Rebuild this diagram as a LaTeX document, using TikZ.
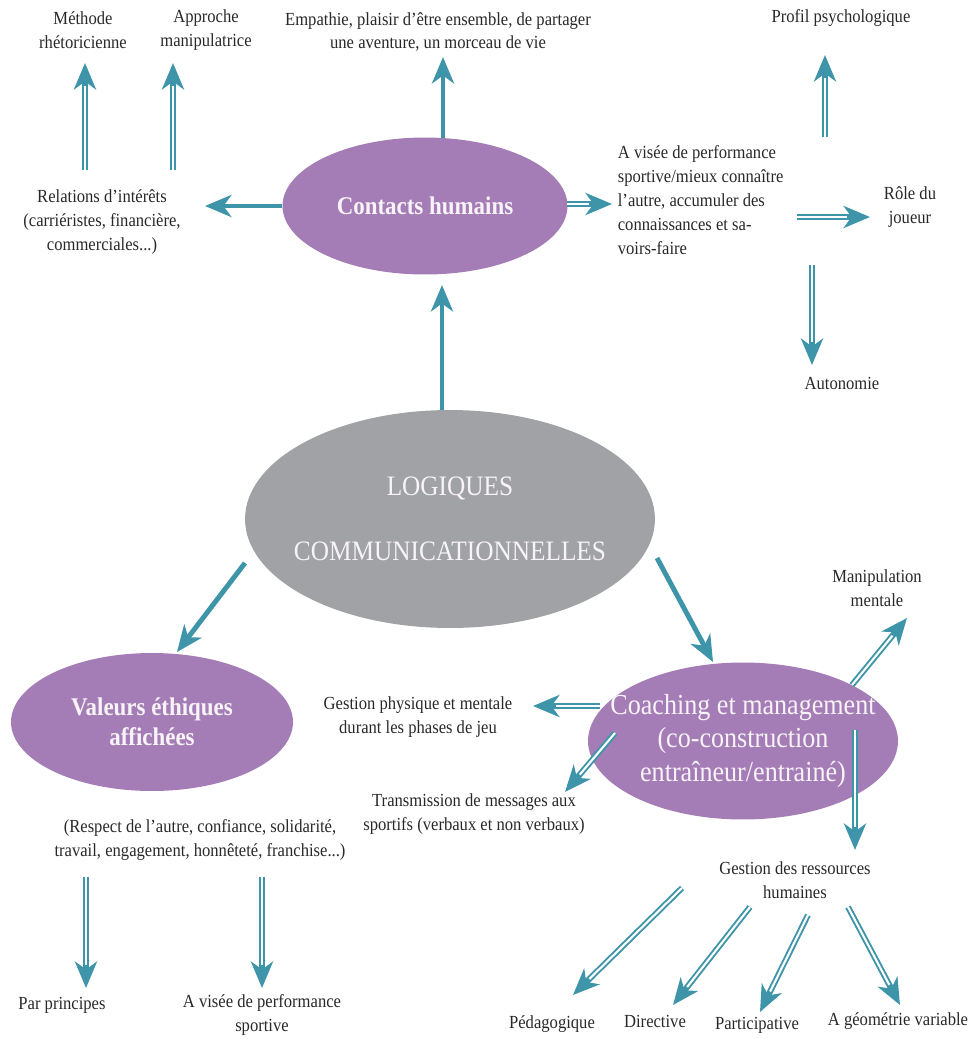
\documentclass[tikz,border=0pt]{standalone}
\usepackage{fontspec}
\setmainfont{Liberation Serif}[FakeStretch=0.9]
\usetikzlibrary{shapes,arrows.meta,calc,positioning}
\definecolor{sea}{RGB}{62,148,168}
\definecolor{mauve}{RGB}{165,125,182}
\definecolor{stone}{RGB}{160,162,166}
\definecolor{ink}{RGB}{40,40,40}
\definecolor{paper}{RGB}{247,243,247}
\begin{document}
\begin{tikzpicture}[x=0.02cm, y=-0.02cm, >={Stealth[length=15pt,width=12.5pt,inset=4.5pt]}]
 % Define block styles
	\tikzstyle{bubble} = [ellipse, fill=mauve, text=paper, inner sep=-20pt, align=center]
	\tikzstyle{txt} = [text=ink, align=center, font=\fontsize{10.5}{13.6}\selectfont, inner sep=2pt]
	\tikzstyle{fat} = [draw=sea, line width=2.8pt, ->]
	\tikzstyle{dbl} = [draw=sea, line width=3.4pt, ->, postaction={draw=white, line width=1.2pt, -, shorten >=13pt}]
	\useasboundingbox (0,0) rectangle (973,1039);
%%====Bulles===============================================================
	\node	[bubble, fill=stone, minimum width=8.2cm, minimum height=4.36cm, font=\fontsize{16}{37}\selectfont]	(logic)	at (450,519)	{LOGIQUES\\COMMUNICATIONNELLES};
	\node	[bubble, minimum width=5.7cm, minimum height=2.74cm, font=\bfseries\fontsize{14.5}{17}\selectfont]	(contact)	at (425,206)	{Contacts humains};
	\node	[bubble, minimum width=5.64cm, minimum height=2.76cm, font=\bfseries\fontsize{14.5}{17}\selectfont]	(valeurs)	at (152,722)	{Valeurs éthiques\\affichées};
	\node	[bubble, minimum width=6.2cm, minimum height=3.14cm, font=\fontsize{16.5}{19}\selectfont]	(coach)	at (743,741)	{Coaching et management\\(co-construction\\entraîneur/entrainé)};
%%====Textes===============================================================
	\node	[txt]	(meth)	at (83,30)	{Méthode\\rhétoricienne};
	\node	[txt]	(appr)	at (206,30)	{Approche\\manipulatrice};
	\node	[txt]	(emp)	at (438,32)	{Empathie, plaisir d’être ensemble, de partager\\une aventure, un morceau de vie};
	\node	[txt]	(profil)	at (841,18)	{Profil psychologique};
	\node	[txt]	(rel)	at (102,222)	{Relations d’intérêts\\(carriéristes, financière,\\commerciales...)};
	\node	[txt, align=left, anchor=west]	(visee)	at (614,200)	{A visée de performance\\sportive/mieux connaître\\l’autre, accumuler des\\connaissances et sa-\\voirs-faire};
	\node	[txt]	(role)	at (910,207)	{Rôle du\\joueur};
	\node	[txt]	(auto)	at (842,383)	{Autonomie};
	\node	[txt]	(gphys)	at (418,717)	{Gestion physique et mentale\\durant les phases de jeu};
	\node	[txt]	(trans)	at (474,814)	{Transmission de messages aux\\sportifs (verbaux et non verbaux)};
	\node	[txt]	(manip)	at (877,588)	{Manipulation\\mentale};
	\node	[txt]	(respect)	at (200,840)	{(Respect de l’autre, confiance, solidarité,\\travail, engagement, honnêteté, franchise...)};
	\node	[txt]	(princ)	at (62,1005)	{Par principes};
	\node	[txt]	(visee2)	at (262,1015)	{A visée de performance\\sportive};
	\node	[txt]	(grh)	at (795,880)	{Gestion des ressources\\humaines};
	\node	[txt]	(peda)	at (552,1024)	{Pédagogique};
	\node	[txt]	(direc)	at (655,1021)	{Directive};
	\node	[txt]	(parti)	at (757,1025)	{Participative};
	\node	[txt]	(geom)	at (898,1021)	{A géométrie variable};
%%====Fleches simples======================================================
	\draw	[fat]	($(logic)+(-8,-109)$) -- ($(contact)+(17,79)$);
	\draw	[fat]	($(contact)+(-143,0)$) -- ($(rel)+(103,-16)$);
	\draw	[fat]	($(contact)+(18,-68)$) -- ($(emp)+(5,25)$);
	\draw	[fat]	($(logic)+(-205,44)$) -- ($(valeurs)+(25,-70)$);
	\draw	[fat]	($(logic)+(207,39)$) -- ($(coach)+(-30,-79)$);
%%====Fleches doubles======================================================
	\draw	[dbl]	($(contact)+(142,-2)$) -- ($(visee.west)+(-2,4)$);
	\draw	[dbl]	($(rel)+(-17,-52)$) -- ($(meth)+(2,33)$);
	\draw	[dbl]	($(rel)+(71,-52)$) -- ($(appr)+(-33,33)$);
	\draw	[dbl]	($(visee.west)+(211,-63)$) -- ($(profil)+(-16,37)$);
	\draw	[dbl]	($(visee.west)+(183,17)$) -- ($(role)+(-40,10)$);
	\draw	[dbl]	($(visee.west)+(198,65)$) -- ($(auto)+(-30,-18)$);
	\draw	[dbl]	($(coach)+(-143,-35)$) -- ($(gphys)+(115,-11)$);
	\draw	[dbl]	($(coach)+(-128,-8)$) -- ($(trans)+(91,-22)$);
	\draw	[dbl]	($(coach)+(109,-56)$) -- ($(manip)+(30,30)$);
	\draw	[dbl]	($(coach)+(112,-11)$) -- ($(grh)+(60,-30)$);
	\draw	[dbl]	($(respect)+(-114,37)$) -- ($(princ)+(24,-17)$);
	\draw	[dbl]	($(respect)+(62,37)$) -- ($(visee2)+(0,-27)$);
	\draw	[dbl]	($(grh)+(-113,8)$) -- ($(peda)+(21,-29)$);
	\draw	[dbl]	($(grh)+(-45,27)$) -- ($(direc)+(18,-16)$);
	\draw	[dbl]	($(grh)+(13,35)$) -- ($(parti)+(3,-13)$);
	\draw	[dbl]	($(grh)+(53,27)$) -- ($(geom)+(2,-16)$);
\end{tikzpicture}
\end{document}
